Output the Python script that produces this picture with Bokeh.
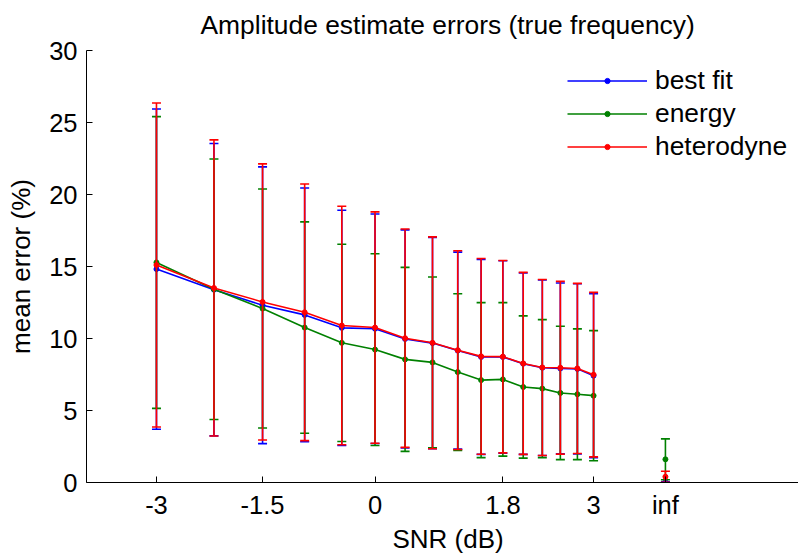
import numpy as np
from bokeh.plotting import figure
from bokeh.models import Range1d, FixedTicker, Legend, LegendItem, Title
from bokeh.embed import file_html
from bokeh.resources import INLINE

# ---- data ----
snr_ratio = [0.5, 0.6, 0.7, 0.8, 0.9, 1.0, 1.1, 1.2, 1.3, 1.4, 1.5, 1.6, 1.7, 1.8, 1.9, 2.0]
inf_pos = 4.0  # where the "inf" SNR case is drawn (dB axis)

tick_ratio = [0.5, 0.7, 1.0, 1.5, 2.0]
tick_labels = ["-3", "-1.5", "0", "1.8", "3", "inf"]
y_ticks = [0, 5, 10, 15, 20, 25, 30]

best_mean = [14.82, 13.39, 12.31, 11.64, 10.74, 10.68, 9.97, 9.68, 9.16, 8.72, 8.72, 8.25, 7.97, 7.92, 7.89, 7.42]
best_err = [11.12, 10.15, 9.61, 8.81, 8.17, 7.97, 7.57, 7.33, 6.84, 6.77, 6.68, 6.30, 6.09, 5.93, 5.91, 5.69]
best_inf = [0.02, 0.03]

energy_mean = [15.28, 13.42, 12.08, 10.76, 9.70, 9.23, 8.55, 8.34, 7.67, 7.11, 7.16, 6.63, 6.52, 6.22, 6.13, 6.03]
energy_err = [10.13, 9.05, 8.30, 7.34, 6.85, 6.66, 6.39, 5.93, 5.44, 5.38, 5.33, 4.94, 4.79, 4.63, 4.54, 4.52]
energy_inf = [1.61, 1.42]

het_mean = [15.10, 13.51, 12.54, 11.82, 10.90, 10.76, 10.02, 9.70, 9.19, 8.76, 8.74, 8.27, 7.99, 7.97, 7.92, 7.49]
het_err = [11.25, 10.28, 9.59, 8.91, 8.28, 8.03, 7.58, 7.36, 6.90, 6.80, 6.68, 6.32, 6.11, 6.00, 5.91, 5.71]
het_inf = [0.40, 0.38]

series = [
    ("best fit", best_mean, best_err, best_inf, "#0000ff"),
    ("energy", energy_mean, energy_err, energy_inf, "#008000"),
    ("heterodyne", het_mean, het_err, het_inf, "#ff0000"),
]

FONT = "Liberation Sans"

x = 10 * np.log10(np.array(snr_ratio))
tick_x = [float(round(v, 6)) for v in (10 * np.log10(np.array(tick_ratio)))] + [inf_pos]

p = figure(width=798, height=554,
           x_range=Range1d(-3.974, 5.833), y_range=Range1d(0, 30),
           output_backend="svg", toolbar_location=None,
           min_border_left=86, min_border_right=0, min_border_top=50, min_border_bottom=70)

p.xgrid.visible = False
p.ygrid.visible = False
p.outline_line_color = None
p.background_fill_color = "white"
p.border_fill_color = "white"

p.title.text = "Amplitude estimate errors (true frequency)"
p.title.text_font = FONT
p.title.text_font_size = "26.4px"
p.title.text_font_style = "normal"
p.title.text_color = "black"
p.title.align = "left"
p.title.offset = 114
p.title.vertical_align = "top"
p.title.standoff = 17

for ax in (p.xaxis[0], p.yaxis[0]):
    ax.axis_line_color = "black"
    ax.axis_line_width = 1
    ax.major_tick_in = 6
    ax.major_tick_out = 0
    ax.major_tick_line_color = "black"
    ax.minor_tick_line_color = None
    ax.major_label_text_font = FONT
    ax.major_label_text_font_size = "25.5px"
    ax.major_label_text_color = "black"

p.xaxis.ticker = FixedTicker(ticks=tick_x)
p.xaxis.major_label_overrides = {tv: lab for tv, lab in zip(tick_x, tick_labels)}
p.xaxis.major_label_standoff = 8

p.yaxis.ticker = FixedTicker(ticks=y_ticks)
p.yaxis.major_label_standoff = 9
p.yaxis.axis_label = "mean error (%)"
p.yaxis.axis_label_text_font = FONT
p.yaxis.axis_label_text_font_size = "26px"
p.yaxis.axis_label_text_font_style = "normal"
p.yaxis.axis_label_text_color = "black"
p.yaxis.axis_label_standoff = 10

xlabel = Title(text="SNR (dB)", align="left", offset=306, vertical_align="bottom", standoff=1,
               text_font=FONT, text_font_size="26px", text_font_style="normal", text_color="black")
p.add_layout(xlabel, "below")

items = []
for name, mean, err, inf_vals, color in series:
    m = np.array(mean)
    e = np.array(err)
    xs = np.append(x, inf_pos)
    ms = np.append(m, inf_vals[0])
    es = np.append(e, inf_vals[1])
    p.segment(x0=xs, y0=ms - es, x1=xs, y1=ms + es, line_color=color, line_width=1.6)
    p.scatter(xs, ms + es, marker="dash", size=9, line_color=color, line_width=1.6)
    p.scatter(xs, ms - es, marker="dash", size=9, line_color=color, line_width=1.6)
    ln = p.line(x, m, line_color=color, line_width=1.6)
    dots = p.scatter(xs, ms, marker="circle", size=5, fill_color=color, line_color=color)
    items.append(LegendItem(label=name, renderers=[ln, dots]))

legend = Legend(items=items, location=(481, 320), padding=0, margin=0, spacing=2,
                glyph_width=80, glyph_height=13, label_height=29, label_standoff=8,
                label_text_font=FONT, label_text_font_size="26.4px", label_text_color="black",
                border_line_alpha=0, background_fill_alpha=0)
p.add_layout(legend)

open("out.html", "w").write(file_html(p, INLINE))
